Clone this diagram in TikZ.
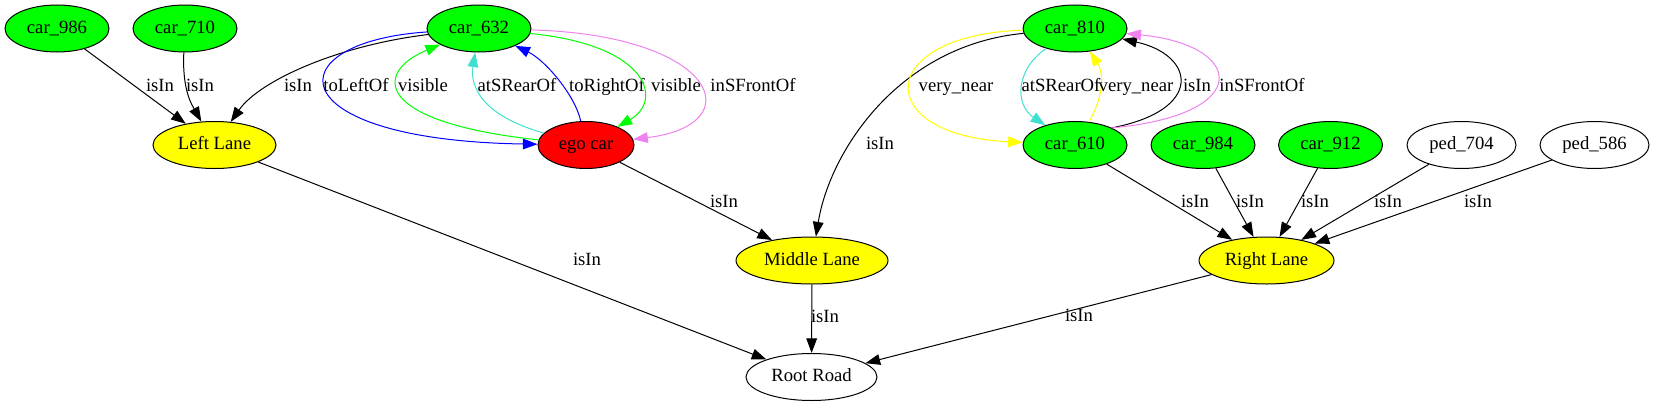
\documentclass[tikz,border=0pt]{standalone}
\usepackage{fontspec}
\setmainfont{Liberation Serif}
\usetikzlibrary{arrows.meta,shapes.geometric}
\definecolor{gvgreen}{HTML}{00FF00}
\definecolor{gvyellow}{HTML}{FFFF00}
\definecolor{gvred}{HTML}{FF0000}
\definecolor{gvturq}{HTML}{40E0D0}
\definecolor{gvviolet}{HTML}{EE82EE}
\definecolor{gvblue}{HTML}{0000FF}
\begin{document}
\begin{tikzpicture}[x=0.75pt,y=-0.75pt,
  every node/.style={font=\fontsize{14}{16}\selectfont,text height=9.5pt,text depth=2.5pt},
  ell/.style={ellipse,draw,line width=0.75pt,inner sep=0pt,minimum height=35.25pt},
  carn/.style={ell,fill=gvgreen,minimum width=78pt},
  lane/.style={ell,fill=gvyellow},
  pedn/.style={ell,fill=white,minimum width=81.75pt},
  lab/.style={inner sep=0pt},
  rel/.style={-{Triangle[length=11pt,width=8pt]},line width=0.75pt},
]
\useasboundingbox[fill=white] (0,0) rectangle (1655,407);
% nodes
\node[carn] (c986) at (57,28.5) {car\_986};
\node[carn] (c710) at (185,28.5) {car\_710};
\node[carn] (c632) at (479,28.5) {car\_632};
\node[carn] (c810) at (1075,28.5) {car\_810};
\node[lane,minimum width=92.25pt] (LL) at (214.5,145) {Left Lane};
\node[ell,fill=gvred,minimum width=72pt] (ego) at (586,145) {ego car};
\node[carn] (c610) at (1075,145) {car\_610};
\node[carn] (c984) at (1203,145) {car\_984};
\node[carn] (c912) at (1330.5,145) {car\_912};
\node[pedn] (p704) at (1461.5,145) {ped\_704};
\node[pedn] (p586) at (1594.5,145) {ped\_586};
\node[lane,minimum width=114pt] (ML) at (812,260.5) {Middle Lane};
\node[lane,minimum width=101.25pt] (RL) at (1266.5,260.5) {Right Lane};
\node[ell,fill=white,minimum width=98.25pt] (RR) at (811.5,377) {Root Road};
% edges
\draw[rel] (c986) -- (LL);
\node[lab] (l1) at (160,87) {isIn};
\draw[rel] (c710) .. controls (182,90) and (192,105) .. (LL);
\node[lab] (l2) at (200,87) {isIn};
\draw[rel] (c632) .. controls (340,45) and (260,80) .. (LL);
\node[lab] (l3) at (298,87) {isIn};
\draw[rel,gvblue] (c632) .. controls (275,42) and (275,140) .. (ego);
\node[lab] (l4) at (356,87) {toLeftOf};
\draw[rel,gvgreen] (ego) .. controls (372,122) and (374,72) .. (c632);
\node[lab] (l5) at (423,87) {visible};
\draw[rel,gvturq] (ego) .. controls (480,115) and (470,85) .. (c632);
\node[lab] (l6) at (517,87) {atSRearOf};
\draw[rel,gvblue] (ego) .. controls (575,95) and (545,60) .. (c632);
\node[lab] (l7) at (607,87) {toRightOf};
\draw[rel,gvgreen] (c632) .. controls (648,45) and (664,100) .. (ego);
\node[lab] (l8) at (676,87) {visible};
\draw[rel,gvviolet] (c632) .. controls (718,35) and (752,125) .. (ego);
\node[lab] (l9) at (753,87) {inSFrontOf};
\draw[rel] (ego) -- (ML);
\node[lab] (l10) at (724,203) {isIn};
\draw[rel] (c810) .. controls (900,45) and (830,150) .. (ML);
\node[lab] (l11) at (880,145) {isIn};
\draw[rel,gvyellow] (c810) .. controls (875,35) and (870,135) .. (c610);
\node[lab] (l12) at (956,87) {very\_near};
\draw[rel,gvturq] (c810) .. controls (1015,70) and (1015,105) .. (c610);
\node[lab] (l13) at (1061,87) {atSRearOf};
\draw[rel,gvyellow] (c610) .. controls (1102,100) and (1105,75) .. (c810);
\node[lab] (l14) at (1136,87) {very\_near};
\draw[rel] (c610.25) .. controls (1205,110) and (1195,55) .. (c810);
\node[lab] (l15) at (1197,87) {isIn};
\draw[rel,gvviolet] (c610.25) .. controls (1255,115) and (1245,45) .. (c810);
\node[lab] (l16) at (1262,87) {inSFrontOf};
\draw[rel] (c610) -- (RL);
\node[lab] (l17) at (1195,203) {isIn};
\draw[rel] (c984) -- (RL);
\node[lab] (l18) at (1250,203) {isIn};
\draw[rel] (c912) -- (RL);
\node[lab] (l19) at (1315,203) {isIn};
\draw[rel] (p704) -- (RL);
\node[lab] (l20) at (1388,203) {isIn};
\draw[rel] (p586) -- (RL);
\node[lab] (l21) at (1478,203) {isIn};
\draw[rel] (LL) -- (RR);
\node[lab] (l22) at (587,261) {isIn};
\draw[rel] (ML) -- (RR);
\node[lab] (l23) at (825,318) {isIn};
\draw[rel] (RL) -- (RR);
\node[lab] (l24) at (1079,317) {isIn};
\end{tikzpicture}
\end{document}
